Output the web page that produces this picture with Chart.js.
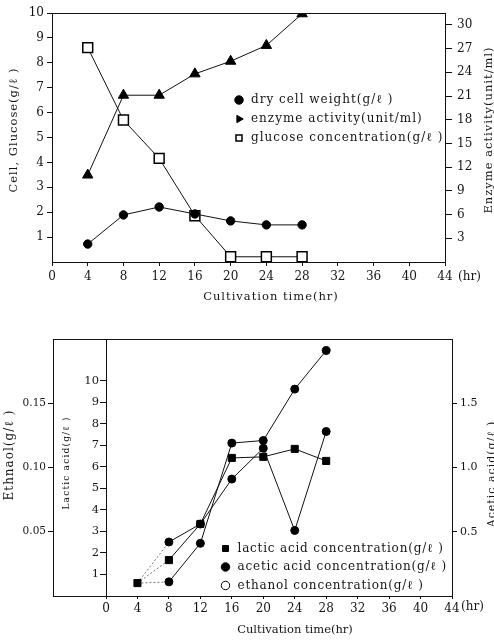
<!DOCTYPE html>
<html><head><meta charset="utf-8">
<script src="https://cdn.jsdelivr.net/npm/chart.js@4/dist/chart.umd.min.js"></script>
<style>
html,body{margin:0;padding:0;background:#fff;}
#wrap{position:relative;width:494px;height:644px;overflow:hidden;background:#fff;}
.box{position:absolute;left:0;width:494px;}
#b1{top:0;height:320px;}
#b2{top:320px;height:324px;}
</style></head><body>
<div id="wrap">
  <div class="box" id="b1"><canvas id="c1" width="494" height="320"></canvas></div>
  <div class="box" id="b2"><canvas id="c2" width="494" height="324"></canvas></div>
</div>
<script>
// ---------- data ----------
const hours = [4, 8, 12, 16, 20, 24, 28];
// top chart
const dryCellWeight = [0.72, 1.89, 2.21, 1.93, 1.65, 1.49, 1.49];
const enzymeActivity = [11.0, 21.1, 21.1, 23.8, 25.4, 27.4, 31.4];
const glucoseConc = [8.61, 5.70, 4.16, 1.86, 0.21, 0.21, 0.21];
// bottom chart
const lacticAcid = [0.60, 1.67, 3.35, 6.42, 6.47, 6.84, 6.28];
const aceticAcid = [0.10, 0.11, 0.41, 1.19, 1.21, 1.61, 1.91];
const ethanolConc = [0.010, 0.042, 0.056, 0.091, 0.115, 0.051, 0.128];
// tick labels
const timeTicks = [0, 4, 8, 12, 16, 20, 24, 28, 32, 36, 40, 44];
const cellTicks = [1, 2, 3, 4, 5, 6, 7, 8, 9, 10];
const enzymeTicks = [3, 6, 9, 12, 15, 18, 21, 24, 27, 30];
const lacticTicks = [1, 2, 3, 4, 5, 6, 7, 8, 9, 10];
const ethanolTicks = [0.05, 0.10, 0.15];
const aceticTicks = [0.5, 1.0, 1.5];
// legend labels
const topLabels = ['dry cell weight(g/ℓ )', 'enzyme activity(unit/ml)', 'glucose concentration(g/ℓ )'];
const bottomLabels = ['lactic acid concentration(g/ℓ )', 'acetic acid concentration(g/ℓ )', 'ethanol concentration(g/ℓ )'];

// ---------- helpers ----------
const FONT = "'DejaVu Serif', 'Liberation Serif', serif";
Chart.defaults.font.family = FONT;
Chart.defaults.color = '#151515';
const pts = arr => hours.map((h, i) => ({x: h, y: arr[i]}));
const setTicks = list => s => { s.ticks = list.map(v => ({value: v})); };
const fixW = w => s => { s.width = w; };
const fixH = h => s => { s.height = h; };
const gridOpts = (len) => ({drawOnChartArea: false, drawTicks: true, tickLength: len, color: '#111', tickColor: '#111'});
const borderOpts = {display: true, color: '#111', width: 1};

const extraText = {
  id: 'extraText',
  afterDraw(chart, args, opts) {
    const ctx = chart.ctx;
    (opts.items || []).forEach(it => {
      ctx.save();
      ctx.font = it.font;
      ctx.fillStyle = '#151515';
      if ('letterSpacing' in ctx) ctx.letterSpacing = it.ls || '0px';
      ctx.textAlign = it.align || 'center';
      ctx.textBaseline = 'middle';
      ctx.translate(it.x, it.y);
      if (it.rot) ctx.rotate(it.rot);
      ctx.fillText(it.text, 0, 0);
      ctx.restore();
    });
  }
};
const frame = {
  id: 'frame',
  afterDraw(chart, args, opts) {
    const {ctx, chartArea: a} = chart;
    const left = opts.leftScale ? chart.scales[opts.leftScale].right : a.left;
    ctx.save();
    ctx.strokeStyle = '#111';
    ctx.lineWidth = 1;
    ctx.beginPath();
    ctx.moveTo(left, Math.round(a.top) + 0.5);
    ctx.lineTo(a.right, Math.round(a.top) + 0.5);
    if (opts.leftScale) {
      ctx.moveTo(left, Math.round(a.bottom) + 0.5);
      ctx.lineTo(a.left, Math.round(a.bottom) + 0.5);
    }
    ctx.stroke();
    ctx.restore();
  }
};
const placeLegend = {
  id: 'placeLegend',
  afterLayout(chart, args, opts) {
    const lg = chart.legend;
    if (!lg) return;
    lg.left = opts.x; lg.top = opts.y;
    lg.right = chart.width; lg.bottom = chart.height;
    lg.width = lg.right - lg.left; lg.height = lg.bottom - lg.top;
    if (!lg._spaced) {
      const orig = lg.draw.bind(lg);
      lg.draw = function (area) {
        const ctx = this.ctx;
        const hasLS = 'letterSpacing' in ctx;
        const prev = hasLS ? ctx.letterSpacing : null;
        if (hasLS) ctx.letterSpacing = opts.spacing || '0px';
        orig(area);
        if (hasLS) ctx.letterSpacing = prev;
      };
      lg._spaced = true;
    }
  }
};
function legendGen(labels, tweak) {
  return chart => {
    const items = Chart.defaults.plugins.legend.labels.generateLabels(chart);
    items.forEach((it, i) => { it.text = labels[i]; tweak(it, i); });
    return items;
  };
}

// ---------- top chart ----------
new Chart(document.getElementById('c1'), {
  type: 'line',
  data: {
    datasets: [
      {label: topLabels[0], data: pts(dryCellWeight), yAxisID: 'y',
       borderColor: '#111', borderWidth: 1, pointStyle: 'circle', pointRadius: 4.2,
       pointBackgroundColor: '#000', pointBorderColor: '#000', pointBorderWidth: 1},
      {label: topLabels[1], data: pts(enzymeActivity), yAxisID: 'y1',
       borderColor: '#111', borderWidth: 1, pointStyle: 'triangle', pointRadius: 6,
       pointBackgroundColor: '#000', pointBorderColor: '#000', pointBorderWidth: 1},
      {label: topLabels[2], data: pts(glucoseConc), yAxisID: 'y',
       borderColor: '#111', borderWidth: 1, pointStyle: 'rect', pointRadius: 7,
       pointBackgroundColor: '#fff', pointBorderColor: '#000', pointBorderWidth: 1.5}
    ]
  },
  options: {
    responsive: false, animation: false, events: [],
    layout: {padding: {top: 13, left: 0, right: 0, bottom: 0}},
    elements: {line: {tension: 0}},
    scales: {
      x: {type: 'linear', position: 'bottom', min: 0, max: 44,
          afterBuildTicks: setTicks(timeTicks), afterFit: fixH(58),
          ticks: {font: {size: 12}, padding: 4, maxRotation: 0, autoSkip: false},
          grid: gridOpts(4), border: borderOpts},
      y: {type: 'linear', position: 'left', min: 0, max: 10,
          afterBuildTicks: setTicks(cellTicks), afterFit: fixW(52),
          ticks: {font: {size: 12}, padding: 3},
          grid: gridOpts(5), border: borderOpts},
      y1: {type: 'linear', position: 'right', min: 0, max: 31.5,
          afterBuildTicks: setTicks(enzymeTicks), afterFit: fixW(49),
          ticks: {font: {size: 12}, padding: 5},
          grid: gridOpts(7), border: borderOpts}
    },
    plugins: {
      tooltip: {enabled: false},
      legend: {position: 'chartArea', align: 'start',
        labels: {usePointStyle: true, boxWidth: 14, boxHeight: 6, padding: 7, font: {size: 12}, color: '#151515',
          generateLabels: legendGen(topLabels, (it, i) => { if (i === 1) it.rotation = 90; })}},
      placeLegend: {x: 226, y: 87, spacing: '1px'},
      frame: {},
      extraText: {items: [
        {text: 'Cell, Glucose(g/ℓ )', x: 14, y: 130, rot: -Math.PI / 2, font: '11.5px ' + FONT, ls: '1px'},
        {text: 'Cultivation time(hr)', x: 271, y: 297, font: '11.5px ' + FONT, ls: '1px'},
        {text: '(hr)', x: 458, y: 277, align: 'left', font: '12px ' + FONT},
        {text: 'Enzyme activity(unit/ml)', x: 489, y: 130, rot: -Math.PI / 2, font: '11.5px ' + FONT, ls: '1px'}
      ]}
    }
  },
  plugins: [placeLegend, frame, extraText]
});

// ---------- bottom chart ----------
const dashFirst = {
  borderDash: c => c.p0DataIndex === 0 ? [2, 2] : undefined,
  borderColor: c => c.p0DataIndex === 0 ? '#777' : undefined
};
new Chart(document.getElementById('c2'), {
  type: 'line',
  data: {
    datasets: [
      {label: bottomLabels[0], data: pts(lacticAcid), yAxisID: 'yL',
       borderColor: '#111', borderWidth: 1, pointStyle: 'rect', pointRadius: 5,
       pointBackgroundColor: '#000', pointBorderColor: '#000', pointBorderWidth: 1, segment: dashFirst},
      {label: bottomLabels[1], data: pts(aceticAcid), yAxisID: 'yA',
       borderColor: '#111', borderWidth: 1, pointStyle: 'circle', pointRadius: [0, 4, 4, 4, 4, 4, 4],
       pointBackgroundColor: '#000', pointBorderColor: '#000', pointBorderWidth: 1, segment: dashFirst},
      {label: bottomLabels[2], data: pts(ethanolConc), yAxisID: 'yE',
       borderColor: '#111', borderWidth: 1, pointStyle: 'circle', pointRadius: [0, 4, 4, 4, 4, 4, 4],
       pointBackgroundColor: '#000', pointBorderColor: '#000', pointBorderWidth: 1, segment: dashFirst}
    ]
  },
  options: {
    responsive: false, animation: false, events: [],
    layout: {padding: {top: 19, left: 0, right: 0, bottom: 0}},
    elements: {line: {tension: 0}},
    scales: {
      x: {type: 'linear', position: 'bottom', min: 0, max: 44,
          afterBuildTicks: setTicks(timeTicks), afterFit: fixH(48),
          ticks: {font: {size: 12}, padding: 3, maxRotation: 0, autoSkip: false},
          grid: gridOpts(3), border: borderOpts},
      yE: {type: 'linear', position: 'left', weight: 10, min: 0, max: 0.2,
          afterBuildTicks: setTicks(ethanolTicks), afterFit: fixW(53),
          ticks: {font: {size: 10.5}, padding: 2, callback: v => v.toFixed(2)},
          grid: gridOpts(5), border: borderOpts},
      yL: {type: 'linear', position: 'left', weight: 0, min: 0, max: 11.95,
          afterBuildTicks: setTicks(lacticTicks), afterFit: fixW(53),
          ticks: {font: {size: 11.5}, padding: 1},
          grid: gridOpts(6), border: borderOpts},
      yA: {type: 'linear', position: 'right', min: 0, max: 2.0,
          afterBuildTicks: setTicks(aceticTicks), afterFit: fixW(42),
          ticks: {font: {size: 11}, padding: 3, callback: v => v.toFixed(1)},
          grid: gridOpts(5), border: borderOpts}
    },
    plugins: {
      tooltip: {enabled: false},
      legend: {position: 'chartArea', align: 'start',
        labels: {usePointStyle: true, boxWidth: 14, boxHeight: 6, padding: 6.5, font: {size: 12}, color: '#151515',
          generateLabels: legendGen(bottomLabels, (it, i) => { if (i === 2) { it.fillStyle = '#fff'; it.lineWidth = 1; } })}},
      placeLegend: {x: 213, y: 216, spacing: '0.8px'},
      frame: {leftScale: 'yE'},
      extraText: {items: [
        {text: 'Ethnaol(g/ℓ )', x: 10, y: 135, rot: -Math.PI / 2, font: '12px ' + FONT, ls: '1px'},
        {text: 'Lactic acid(g/ℓ )', x: 67, y: 143, rot: -Math.PI / 2, font: '9px ' + FONT, ls: '1.2px'},
        {text: 'Cultivation time(hr)', x: 295, y: 310, font: '11.5px ' + FONT},
        {text: '(hr)', x: 461, y: 287, align: 'left', font: '12px ' + FONT},
        {text: 'Acetic acid(g/ℓ )', x: 492, y: 154, rot: -Math.PI / 2, font: '11px ' + FONT, ls: '1px'}
      ]}
    }
  },
  plugins: [placeLegend, frame, extraText]
});
</script>
</body></html>
